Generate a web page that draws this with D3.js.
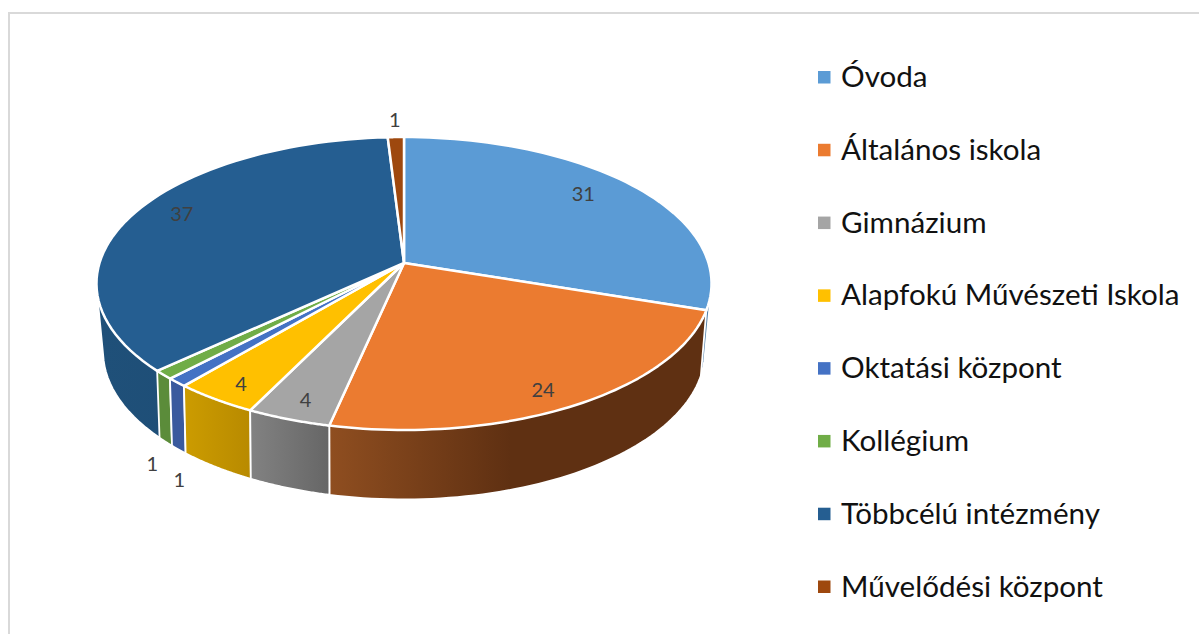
<!DOCTYPE html>
<html><head><meta charset="utf-8">
<script src="https://cdn.jsdelivr.net/npm/d3@7/dist/d3.min.js"></script>
<style>html,body{margin:0;padding:0;background:#fff;overflow:hidden}svg{display:block}text{font-family:Lato,"Open Sans",sans-serif}</style>
</head><body><svg id="c" width="1199" height="634"></svg>
<script>
const categories = ["Óvoda","Általános iskola","Gimnázium","Alapfokú Művészeti Iskola","Oktatási központ","Kollégium","Többcélú intézmény","Művelődési központ"];
const values = [31,24,4,4,1,1,37,1];
const topColors = ["#5b9bd5","#eb7b30","#a5a5a5","#ffc000","#4472c4","#70ad47","#255e91","#9e480e"];
const wallFrom = ["#4f7ea8","#8f4e20","#828282","#cc9c00","#3a5a9e","#5b8c3a","#1f5079","#7a3a0b"];
const wallTo   = ["#4f7ea8","#5f3012","#666666","#b88a00","#3a5a9e","#5b8c3a","#1c4a72","#7a3a0b"];
// label placement: radial fraction and angular nudge (degrees) from each slice's middle
const labelRadius = [0.815,0.886,0.888,0.893,1.388,1.36,0.846,1.157];
const labelNudge  = [-3.4,2.4,-0.5,-0.8,-15.9,-14.9,3.2,0];

const svg = d3.select("#c");
const defs = svg.append("defs");

// frame
svg.append("path").attr("d","M9 634V13H1199").attr("fill","none").attr("stroke","#d9d9d9").attr("stroke-width",2);

const rimTop = {cx:404, cy:263, a:304.5, b:143.6, k:0.14};
const rimLow = {cx:404, cy:328, a:297, b:144, k:0.16};
function project(rim, theta, r=1){
  const x = r*Math.sin(theta), y = -r*Math.cos(theta), d = 1-rim.k*y;
  return [rim.cx + rim.a*x/d, rim.cy + rim.b*y/d];
}
const arcs = d3.pie().sort(null).value(d=>d)(values).map((d,i)=>({...d,i}));
const line = d3.line();
const steps = (s,e)=>d3.range(0,61).map(t=>s+(e-s)*t/60);

// walls: farthest first; the hull keeps the silhouette between the two rims, the top faces cover the rest
const walls = arcs.slice().sort((p,q)=>Math.abs((q.startAngle+q.endAngle)/2-Math.PI)-Math.abs((p.startAngle+p.endAngle)/2-Math.PI));
walls.forEach(d=>{
  const grad = defs.append("linearGradient").attr("id","w"+d.i);
  grad.append("stop").attr("offset","0%").attr("stop-color",wallFrom[d.i]);
  grad.append("stop").attr("offset",d.i===1?"48%":"100%").attr("stop-color",wallTo[d.i]);
  const ang = steps(d.startAngle,d.endAngle);
  const pts = d3.polygonHull(ang.map(t=>project(rimTop,t)).concat(ang.map(t=>project(rimLow,t))));
  svg.append("path").attr("d",line(pts)+"Z")
    .attr("fill",`url(#w${d.i})`).attr("stroke","#fff").attr("stroke-width",1.8).attr("stroke-linejoin","round");
});

// top faces
arcs.forEach(d=>{
  const pts = [[rimTop.cx,rimTop.cy]].concat(steps(d.startAngle,d.endAngle).map(t=>project(rimTop,t)));
  svg.append("path").attr("d",line(pts)+"Z")
    .attr("fill",topColors[d.i]).attr("stroke","#fff").attr("stroke-width",2.5).attr("stroke-linejoin","round");
});

// value labels
svg.append("g").selectAll("text").data(arcs).join("text")
  .attr("transform",d=>{
    const mid=(d.startAngle+d.endAngle)/2 + labelNudge[d.i]*Math.PI/180;
    const p=project(rimTop,mid,labelRadius[d.i]);
    return `translate(${p[0]},${p[1]})`;
  })
  .attr("text-anchor","middle").attr("dy","0.35em")
  .attr("font-size",20).attr("fill","#404040").text(d=>d.value);

// legend
const ly = d3.scalePoint().domain(categories).range([77.5,587]);
const lg = svg.append("g").selectAll("g").data(categories).join("g")
  .attr("transform",d=>`translate(818,${ly(d)})`);
lg.append("rect").attr("x",0).attr("y",-6.5).attr("width",12.5).attr("height",12.5).attr("fill",(d,i)=>topColors[i]);
lg.append("text").attr("x",23).attr("y",9.5).attr("font-size",29.6).attr("fill","#111").text(d=>d);
</script></body></html>
